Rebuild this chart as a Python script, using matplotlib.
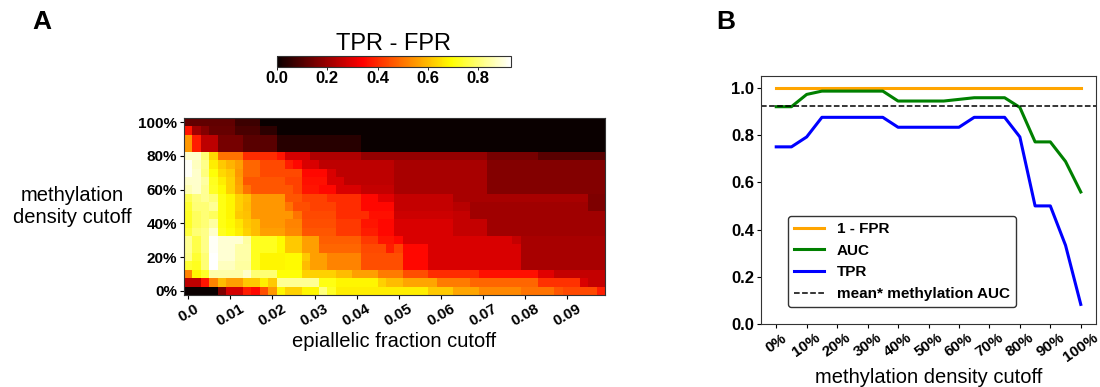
import numpy as np
import matplotlib
matplotlib.use("Agg")
import matplotlib.pyplot as plt

plt.rcParams['font.family'] = ['Liberation Sans', 'DejaVu Sans']

# --- panel A: TPR - FPR heatmap ---
# each row: (value, number of cells) left to right, 50 cells per row
row_100 = [(0.12, 6), (0.07, 3), (0.0, 41)]
row_95 = [(0.37, 1), (0.21, 1), (0.17, 1), (0.13, 3), (0.09, 3), (0.05, 2), (0.0, 39)]
row_90 = [(0.55, 1), (0.38, 1), (0.25, 2), (0.15, 3), (0.11, 4), (0.04, 10), (0.0, 29)]
row_85 = [(0.55, 1), (0.38, 1), (0.25, 2), (0.15, 3), (0.11, 4), (0.04, 10), (0.0, 29)]
row_80 = [(0.88, 2), (0.80, 1), (0.64, 1), (0.50, 3), (0.40, 4), (0.37, 1), (0.28, 3),
          (0.23, 6), (0.19, 15), (0.15, 6), (0.11, 8)]
row_75 = [(0.92, 1), (0.87, 1), (0.82, 1), (0.67, 1), (0.62, 1), (0.59, 1), (0.56, 1),
          (0.48, 2), (0.44, 3), (0.38, 1), (0.35, 1), (0.29, 2), (0.25, 9), (0.22, 11), (0.17, 14)]
row_70 = [(0.92, 1), (0.88, 1), (0.81, 1), (0.70, 1), (0.64, 1), (0.62, 1), (0.55, 1),
          (0.48, 2), (0.44, 5), (0.35, 3), (0.29, 1), (0.25, 7), (0.22, 11), (0.17, 14)]
row_65 = [(0.88, 2), (0.84, 1), (0.72, 1), (0.67, 1), (0.63, 1), (0.56, 1), (0.46, 5),
          (0.43, 2), (0.36, 3), (0.29, 2), (0.25, 6), (0.22, 11), (0.17, 14)]
row_60 = [(0.86, 1), (0.88, 1), (0.83, 1), (0.73, 1), (0.69, 1), (0.63, 1), (0.57, 1),
          (0.50, 1), (0.46, 5), (0.43, 1), (0.37, 2), (0.35, 2), (0.29, 3), (0.26, 4),
          (0.22, 11), (0.17, 14)]
row_55 = [(0.77, 1), (0.81, 1), (0.83, 1), (0.80, 1), (0.71, 1), (0.68, 1), (0.63, 1),
          (0.61, 1), (0.55, 4), (0.46, 2), (0.43, 3), (0.40, 4), (0.35, 2), (0.30, 2),
          (0.26, 7), (0.22, 16), (0.16, 2)]
row_50 = [(0.74, 1), (0.80, 2), (0.83, 1), (0.71, 1), (0.68, 1), (0.63, 1), (0.60, 1),
          (0.55, 4), (0.50, 1), (0.45, 2), (0.43, 3), (0.40, 3), (0.35, 4), (0.26, 7),
          (0.24, 2), (0.21, 14), (0.16, 2)]
row_45 = [(0.73, 1), (0.78, 1), (0.80, 1), (0.78, 1), (0.71, 1), (0.68, 1), (0.62, 1),
          (0.61, 1), (0.55, 5), (0.50, 1), (0.44, 4), (0.40, 4), (0.36, 3), (0.27, 7),
          (0.26, 2), (0.21, 16)]
row_40 = [(0.73, 1), (0.78, 1), (0.80, 1), (0.84, 1), (0.71, 1), (0.69, 1), (0.66, 1),
          (0.62, 1), (0.60, 1), (0.55, 3), (0.52, 2), (0.45, 4), (0.42, 3), (0.37, 2),
          (0.35, 2), (0.29, 7), (0.26, 4), (0.21, 14)]
row_35 = [(0.75, 1), (0.80, 1), (0.82, 1), (0.88, 1), (0.72, 1), (0.70, 1), (0.67, 1),
          (0.63, 1), (0.60, 1), (0.56, 3), (0.53, 2), (0.46, 4), (0.42, 3), (0.38, 2),
          (0.35, 2), (0.29, 7), (0.26, 4), (0.21, 14)]
row_30 = [(0.83, 1), (0.76, 1), (0.82, 1), (0.92, 1), (0.89, 3), (0.84, 1), (0.72, 3),
          (0.69, 1), (0.62, 2), (0.56, 2), (0.47, 5), (0.42, 2), (0.37, 2), (0.35, 1),
          (0.29, 13), (0.26, 1), (0.22, 10)]
row_25 = [(0.83, 1), (0.76, 1), (0.82, 1), (0.92, 1), (0.89, 2), (0.85, 2), (0.72, 3),
          (0.69, 1), (0.62, 2), (0.56, 2), (0.48, 5), (0.44, 3), (0.38, 1), (0.43, 1),
          (0.35, 3), (0.29, 11), (0.22, 10)]
row_20 = [(0.82, 1), (0.74, 1), (0.80, 1), (0.93, 1), (0.89, 2), (0.85, 2), (0.72, 1),
          (0.68, 3), (0.69, 2), (0.62, 1), (0.56, 2), (0.52, 4), (0.45, 5), (0.35, 3),
          (0.29, 11), (0.22, 10)]
row_15 = [(0.74, 1), (0.72, 1), (0.80, 1), (0.93, 1), (0.87, 2), (0.84, 2), (0.72, 1),
          (0.68, 3), (0.69, 2), (0.60, 1), (0.56, 2), (0.52, 4), (0.45, 5), (0.35, 3),
          (0.29, 11), (0.22, 10)]
row_10 = [(0.52, 1), (0.68, 1), (0.73, 1), (0.85, 4), (0.88, 1), (0.80, 3), (0.70, 3),
          (0.63, 4), (0.60, 2), (0.56, 3), (0.51, 3), (0.45, 3), (0.40, 6), (0.36, 7),
          (0.30, 2), (0.26, 6)]
row_5 = [(0.25, 2), (0.37, 1), (0.52, 1), (0.60, 1), (0.56, 2), (0.62, 2), (0.67, 1),
         (0.62, 1), (0.83, 5), (0.71, 2), (0.68, 5), (0.63, 1), (0.60, 2), (0.57, 4),
         (0.51, 4), (0.48, 8), (0.41, 5), (0.29, 1), (0.26, 2)]
row_0 = [(0.0, 4), (0.16, 1), (0.28, 2), (0.38, 1), (0.35, 1), (0.45, 1), (0.55, 1),
         (0.68, 1), (0.63, 2), (0.68, 2), (0.81, 1), (0.73, 1), (0.67, 11), (0.62, 3),
         (0.57, 3), (0.53, 5), (0.50, 4), (0.46, 1), (0.44, 4), (0.38, 1)]

rows_top_down = [row_100, row_95, row_90, row_85, row_80, row_75, row_70, row_65,
                 row_60, row_55, row_50, row_45, row_40, row_35, row_30, row_25,
                 row_20, row_15, row_10, row_5, row_0]

fraction_step = 0.002
density_step = 5
fraction_ticks = [0.0, 0.01, 0.02, 0.03, 0.04, 0.05, 0.06, 0.07, 0.08, 0.09]
fraction_labels = ['0.0', '0.01', '0.02', '0.03', '0.04', '0.05', '0.06', '0.07', '0.08', '0.09']
density_ticks = [0, 20, 40, 60, 80, 100]
density_labels = ['0%', '20%', '40%', '60%', '80%', '100%']
cbar_ticks = [0.0, 0.2, 0.4, 0.6, 0.8]

# --- panel B: metrics vs methylation density cutoff ---
density_cutoff = [0, 5, 10, 15, 20, 25, 30, 35, 40, 45, 50, 55, 60, 65, 70, 75, 80, 85, 90, 95, 100]
one_minus_fpr = [1.0, 1.0, 1.0, 1.0, 1.0, 1.0, 1.0, 1.0, 1.0, 1.0, 1.0,
                 1.0, 1.0, 1.0, 1.0, 1.0, 1.0, 1.0, 1.0, 1.0, 1.0]
auc = [0.92, 0.92, 0.972, 0.986, 0.986, 0.986, 0.986, 0.986, 0.944, 0.944, 0.944,
       0.944, 0.951, 0.958, 0.958, 0.958, 0.917, 0.771, 0.771, 0.688, 0.559]
tpr = [0.75, 0.75, 0.792, 0.875, 0.875, 0.875, 0.875, 0.875, 0.833, 0.833, 0.833,
       0.833, 0.833, 0.875, 0.875, 0.875, 0.792, 0.5, 0.5, 0.333, 0.083]
mean_meth_auc = 0.923
b_xticks = [0, 10, 20, 30, 40, 50, 60, 70, 80, 90, 100]
b_xlabels = ['0%', '10%', '20%', '30%', '40%', '50%', '60%', '70%', '80%', '90%', '100%']
b_yticks = [0.0, 0.2, 0.4, 0.6, 0.8, 1.0]

fig = plt.figure(figsize=(11, 3.87), dpi=100)

# heatmap
grid = np.array([np.repeat([v for v, n in r], [n for v, n in r]) for r in rows_top_down])
ncols = grid.shape[1]
ax = fig.add_axes([184 / 1100, 1 - 295 / 387, 421 / 1100, 177 / 387])
im = ax.imshow(grid, cmap='hot', vmin=0, vmax=0.93, aspect='auto', interpolation='nearest',
               extent=[-fraction_step / 2, (ncols - 0.5) * fraction_step,
                       -density_step / 2, 100 + density_step / 2])
ax.set_xticks(fraction_ticks)
ax.set_xticklabels(fraction_labels, rotation=30, fontsize=11, fontweight='bold')
ax.set_yticks(density_ticks)
ax.set_yticklabels(density_labels, fontsize=11, fontweight='bold')
ax.tick_params(length=3, width=0.8, pad=2)
ax.set_xlabel('epiallelic fraction cutoff', fontsize=14.5, labelpad=2)
ax.set_ylabel('methylation\ndensity cutoff', fontsize=14.5, rotation=0, ha='center', va='center')
ax.yaxis.set_label_coords(-0.265, 0.5)
for s in ax.spines.values():
    s.set_color('#333333')
    s.set_linewidth(0.8)

# colorbar
cax = fig.add_axes([277 / 1100, 1 - 67 / 387, 234 / 1100, 11 / 387])
cb = fig.colorbar(im, cax=cax, orientation='horizontal', ticks=cbar_ticks)
cb.ax.set_xticklabels(['0.0', '0.2', '0.4', '0.6', '0.8'], fontsize=12, fontweight='bold')
cb.ax.tick_params(length=2, width=0.6, pad=1)
cb.outline.set_edgecolor('#333333')
cb.outline.set_linewidth(0.8)
cax.set_title('TPR - FPR', fontsize=17, pad=4)

# line panel
ax2 = fig.add_axes([761 / 1100, 1 - 324 / 387, 335 / 1100, 248 / 387])
ax2.plot(density_cutoff, one_minus_fpr, color='orange', lw=2.2, label='1 - FPR')
ax2.plot(density_cutoff, auc, color='green', lw=2.2, label='AUC')
ax2.plot(density_cutoff, tpr, color='blue', lw=2.2, label='TPR')
ax2.axhline(mean_meth_auc, color='black', ls='--', lw=1.1, label='mean* methylation AUC')
ax2.set_ylim(0, 1.05)
ax2.set_yticks(b_yticks)
ax2.set_yticklabels(['0.0', '0.2', '0.4', '0.6', '0.8', '1.0'], fontsize=12, fontweight='bold')
ax2.set_xticks(b_xticks)
ax2.set_xticklabels(b_xlabels, rotation=35, fontsize=11, fontweight='bold')
ax2.tick_params(length=3, width=0.8, pad=2)
ax2.set_xlabel('methylation density cutoff', fontsize=14.5, labelpad=2)
for s in ax2.spines.values():
    s.set_color('#333333')
    s.set_linewidth(0.8)
leg = ax2.legend(loc='lower left', bbox_to_anchor=(0.08, 0.068), borderaxespad=0,
                 prop={'weight': 'bold', 'size': 11}, framealpha=1, edgecolor='#333333')

fig.text(32 / 1100, 1 - 10 / 387, 'A', fontsize=19, fontweight='bold', va='top')
fig.text(716 / 1100, 1 - 10 / 387, 'B', fontsize=19, fontweight='bold', va='top')

fig.savefig('out.png', dpi=100)
